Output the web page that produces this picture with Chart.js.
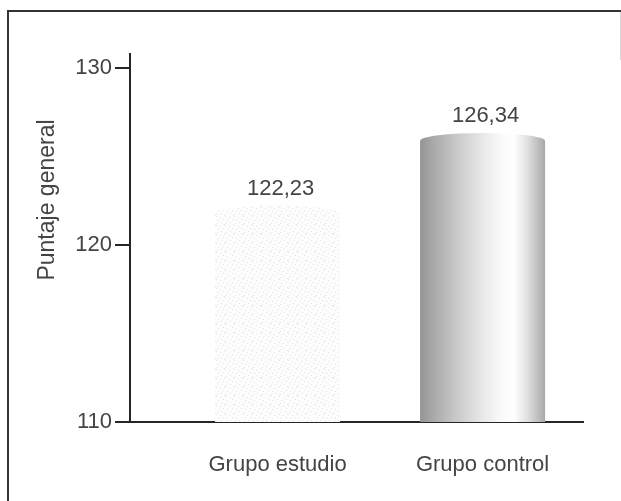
<!DOCTYPE html>
<html>
<head>
<meta charset="utf-8">
<script src="https://cdn.jsdelivr.net/npm/chart.js@4"></script>
<style>
  html, body { margin: 0; padding: 0; background: #fff; }
  #wrap { width: 621px; height: 501px; }
</style>
</head>
<body>
<div id="wrap"><canvas id="c" width="621" height="501"></canvas></div>
<script>
// Puntaje general por grupo
const categories = ['Grupo estudio', 'Grupo control'];
const scores = [122.23, 126.34];
const yTicks = [110, 120, 130];
const yTitle = 'Puntaje general';

const FONT = '"Liberation Sans", Arial, Helvetica, sans-serif';
const INK = '#444';
const AXIS = '#262626';

// Faint speckled fill for the first bar
function speckle(ctx) {
  const c = document.createElement('canvas');
  c.width = 9; c.height = 9;
  const p = c.getContext('2d');
  p.fillStyle = '#fdfdfd';
  p.fillRect(0, 0, 9, 9);
  p.fillStyle = '#e2e2e2';
  [[0,0],[4,1],[7,3],[2,4],[5,6],[1,7],[8,8]].forEach(([x, y]) => p.fillRect(x, y, 1, 1));
  return ctx.createPattern(c, 'repeat');
}

// Shaded cylinder fill for the second bar
function cylinder(ctx, left, right) {
  const g = ctx.createLinearGradient(left, 0, right, 0);
  g.addColorStop(0.00, '#959595');
  g.addColorStop(0.10, '#a8a8a8');
  g.addColorStop(0.30, '#cacaca');
  g.addColorStop(0.50, '#e8e8e8');
  g.addColorStop(0.63, '#f8f8f8');
  g.addColorStop(0.75, '#ffffff');
  g.addColorStop(0.86, '#e0e0e0');
  g.addColorStop(0.94, '#c0c0c0');
  g.addColorStop(1.00, '#a8a8a8');
  return g;
}

const framePlugin = {
  id: 'frame',
  beforeDraw(chart) {
    const ctx = chart.ctx;
    ctx.save();
    ctx.fillStyle = '#fff';
    ctx.fillRect(0, 0, chart.width, chart.height);
    ctx.strokeStyle = '#333';
    ctx.lineWidth = 2;
    ctx.beginPath();
    ctx.moveTo(8, chart.height + 2);
    ctx.lineTo(8, 11);
    ctx.lineTo(chart.width + 2, 11);
    ctx.stroke();
    ctx.strokeStyle = '#d8d8d8';
    ctx.lineWidth = 1;
    ctx.beginPath();
    ctx.moveTo(620.5, 12);
    ctx.lineTo(620.5, 60);
    ctx.stroke();
    ctx.restore();
  }
};

const cylinderPlugin = {
  id: 'cylinderBars',
  beforeDatasetDraw(chart, args) {
    const ctx = chart.ctx;
    const area = chart.chartArea;
    ctx.save();
    ctx.beginPath();
    ctx.rect(area.left, area.top - 20, area.right - area.left, area.bottom - area.top + 20);
    ctx.clip();
    args.meta.data.forEach((bar, i) => {
      const { x, y, base, width } = bar.getProps(['x', 'y', 'base', 'width'], true);
      const left = x - width / 2, right = x + width / 2;
      const bottom = Math.min(base, area.bottom);
      const ry = 8;
      ctx.beginPath();
      ctx.moveTo(left, bottom);
      ctx.lineTo(left, y + ry);
      ctx.ellipse(x, y + ry, width / 2, ry, 0, Math.PI, 2 * Math.PI);
      ctx.lineTo(right, bottom);
      ctx.closePath();
      ctx.fillStyle = i === 0 ? speckle(ctx) : cylinder(ctx, left, right);
      ctx.fill();
    });
    ctx.restore();
    return false;
  },
  afterDatasetsDraw(chart) {
    const ctx = chart.ctx;
    const meta = chart.getDatasetMeta(0);
    ctx.save();
    ctx.font = '22px ' + FONT;
    ctx.fillStyle = INK;
    ctx.textAlign = 'center';
    ctx.textBaseline = 'middle';
    meta.data.forEach((bar, i) => {
      const { x, y } = bar.getProps(['x', 'y'], true);
      ctx.fillText(scores[i].toFixed(2).replace('.', ','), x + 3, y - 17);
    });
    ctx.restore();
  }
};

const yTitlePlugin = {
  id: 'yTitle',
  afterDraw(chart) {
    const ctx = chart.ctx;
    ctx.save();
    ctx.font = '23px ' + FONT;
    ctx.fillStyle = INK;
    ctx.textAlign = 'center';
    ctx.textBaseline = 'middle';
    ctx.translate(48, 200);
    ctx.rotate(-Math.PI / 2);
    ctx.fillText(yTitle, 0, 0);
    ctx.restore();
  }
};

new Chart(document.getElementById('c'), {
  type: 'bar',
  data: {
    datasets: [{
      label: yTitle,
      data: scores.map((v, i) => ({ x: i, y: v })),
      barThickness: 125,
      backgroundColor: '#ddd',
      borderWidth: 0
    }]
  },
  options: {
    responsive: false,
    animation: false,
    layout: { padding: { top: 54, right: 38, left: 0, bottom: 0 } },
    plugins: {
      legend: { display: false },
      tooltip: { enabled: false }
    },
    scales: {
      x: {
        type: 'linear',
        min: -0.72,
        max: 1.49,
        offset: false,
        grid: { display: false, offset: false, drawTicks: false },
        border: { display: true, color: AXIS, width: 2 },
        afterBuildTicks: s => { s.ticks = categories.map((_, i) => ({ value: i })); },
        afterFit: s => { s.height = 79; },
        ticks: {
          padding: 30,
          color: INK,
          font: { family: FONT, size: 22 },
          callback: v => categories[v] ?? ''
        }
      },
      y: {
        type: 'linear',
        min: 110,
        max: 130.8,
        grid: { display: true, drawOnChartArea: false, drawTicks: true, tickLength: 15, color: AXIS, lineWidth: 2 },
        border: { display: true, color: AXIS, width: 2 },
        afterBuildTicks: s => { s.ticks = yTicks.map(v => ({ value: v })); },
        afterFit: s => { s.width = 130; },
        ticks: {
          padding: 3,
          color: INK,
          font: { family: FONT, size: 22 },
          callback: v => String(v)
        }
      }
    }
  },
  plugins: [framePlugin, cylinderPlugin, yTitlePlugin]
});
</script>
</body>
</html>
